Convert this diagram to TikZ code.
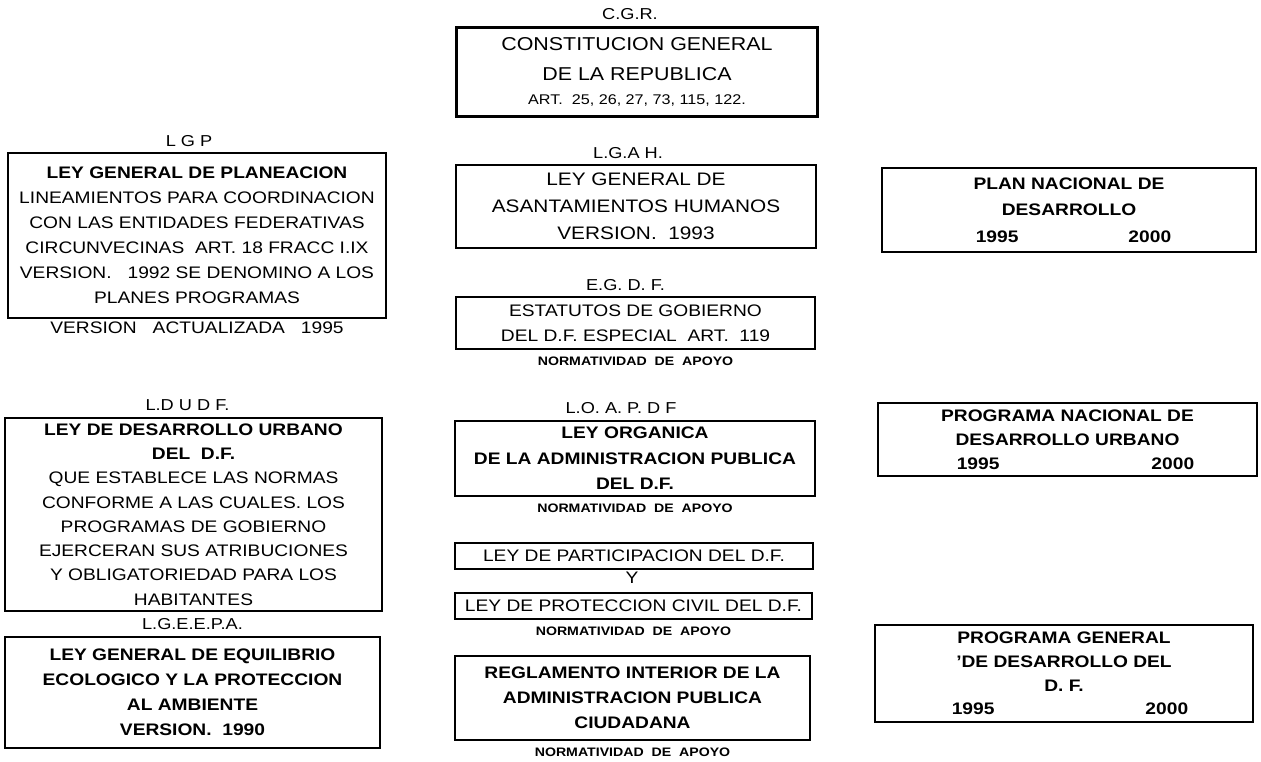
\documentclass[tikz,border=0pt]{standalone}
\usepackage{fontspec}
\setmainfont{Liberation Sans}[FakeStretch=1.15]
\usetikzlibrary{positioning}

\tikzset{
  ley/.style={draw,line width=1.3pt,align=center,inner sep=0pt,
    font=\fontsize{9.5}{14.2}\selectfont},
  sigla/.style={inner sep=1.5pt,font=\fontsize{9}{11}\selectfont},
  apoyo/.style={inner sep=1.5pt,font=\fontsize{7}{8}\selectfont\bfseries},
}

\begin{document}
\begin{tikzpicture}[x=0.02cm,y=-0.02cm]
  \useasboundingbox (0,0) rectangle (1261,761);
  % columna central
  \node[ley,minimum width=7.22cm,minimum height=1.78cm,font=\fontsize{10.6}{17}\selectfont]
    (cgr) at (637,72) {CONSTITUCION GENERAL\\DE LA REPUBLICA\\[-3pt]
    {\fontsize{8}{10}\selectfont ART.\ \ 25,\ 26,\ 27,\ 73,\ 115,\ 122.}};
  \node[sigla,above=2pt of cgr,xshift=-0.14cm] (cgrtag) {C.G.R.};
  \node[ley,minimum width=7.2cm,minimum height=1.66cm,font=\fontsize{10.3}{15.4}\selectfont]
    (lgah) at (636,206.5) {LEY GENERAL DE\\ASANTAMIENTOS HUMANOS\\VERSION.\ \ 1993};
  \node[sigla,above=1pt of lgah,xshift=-0.16cm] (lgahtag) {L.G.A H.};
  \node[ley,minimum width=7.18cm,minimum height=1.04cm] (egdf) at (635.5,323)
    {ESTATUTOS DE GOBIERNO\\DEL D.F. ESPECIAL\ \ ART.\ \ 119};
  \node[sigla,above=1pt of egdf,xshift=-0.2cm] (egdftag) {E.G. D. F.};
  \node[apoyo,below=2pt of egdf] (egdfapoyo) {NORMATIVIDAD\ \ DE\ \ APOYO};
  \node[ley,minimum width=7.2cm,minimum height=1.5cm,font=\fontsize{9.5}{14.5}\selectfont\bfseries]
    (loapdf) at (635,458.5) {LEY ORGANICA\\DE LA ADMINISTRACION PUBLICA\\DEL D.F.};
  \node[sigla,above=2pt of loapdf,xshift=-0.28cm] (loapdftag) {L.O. A. P. D F};
  \node[apoyo,below=2pt of loapdf] (loapdfapoyo) {NORMATIVIDAD\ \ DE\ \ APOYO};
  \node[ley,minimum width=7.16cm,minimum height=0.52cm] (lpdf) at (634,556)
    {LEY DE PARTICIPACION DEL D.F.};
  \node[sigla,font=\fontsize{9.5}{11}\selectfont] (y) at (632,578) {Y};
  \node[ley,minimum width=7.14cm,minimum height=0.52cm] (lpcdf) at (633.5,606)
    {LEY DE PROTECCION CIVIL DEL D.F.};
  \node[apoyo,below=2pt of lpcdf] (lpcdfapoyo) {NORMATIVIDAD\ \ DE\ \ APOYO};
  \node[ley,minimum width=7.1cm,minimum height=1.68cm,font=\fontsize{9.5}{14.2}\selectfont\bfseries]
    (riapc) at (632.5,698) {REGLAMENTO INTERIOR DE LA\\ADMINISTRACION PUBLICA\\CIUDADANA};
  \node[apoyo,below=2pt of riapc] (riapcapoyo) {NORMATIVIDAD\ \ DE\ \ APOYO};
  % columna izquierda
  \node[ley,minimum width=7.56cm,minimum height=3.3cm] (lgp) at (197,235.5)
    {{\bfseries LEY GENERAL DE PLANEACION}\\LINEAMIENTOS PARA COORDINACION\\
    CON LAS ENTIDADES FEDERATIVAS\\CIRCUNVECINAS\ \ ART. 18 FRACC I.IX\\
    VERSION.\ \ \ 1992 SE DENOMINO A LOS\\PLANES PROGRAMAS};
  \node[sigla,above=1pt of lgp,xshift=-0.16cm] (lgptag) {L G P};
  \node[sigla,below=0pt of lgp,font=\fontsize{9.5}{11}\selectfont] (lgpver)
    {VERSION\ \ \ ACTUALIZADA\ \ \ 1995};
  \node[ley,minimum width=7.54cm,minimum height=3.86cm,font=\fontsize{9.5}{13.8}\selectfont]
    (ldudf) at (193.5,514.5) {{\bfseries LEY DE DESARROLLO URBANO}\\{\bfseries DEL\ \ D.F.}\\
    QUE ESTABLECE LAS NORMAS\\CONFORME A LAS CUALES. LOS\\PROGRAMAS DE GOBIERNO\\
    EJERCERAN SUS ATRIBUCIONES\\Y OBLIGATORIEDAD PARA LOS\\HABITANTES};
  \node[sigla,above=2pt of ldudf,xshift=-0.12cm] (ldudftag) {L.D U D F.};
  \node[ley,minimum width=7.5cm,minimum height=2.22cm,font=\fontsize{9.5}{14.2}\selectfont\bfseries]
    (lgeepa) at (192.5,692.5) {LEY GENERAL DE EQUILIBRIO\\ECOLOGICO Y LA PROTECCION\\
    AL AMBIENTE\\VERSION.\ \ 1990};
  \node[sigla,above=2pt of lgeepa] (lgeepatag) {L.G.E.E.P.A.};
  % columna derecha
  \node[ley,minimum width=7.48cm,minimum height=1.68cm,font=\fontsize{9.5}{15}\selectfont\bfseries]
    (pnd) at (1069,210) {PLAN NACIONAL DE\\DESARROLLO\\\hspace*{0.18cm}1995\hspace{2.2cm}2000};
  \node[ley,minimum width=7.58cm,minimum height=1.46cm,font=\fontsize{9.5}{13.6}\selectfont\bfseries]
    (pndu) at (1067.5,439.5) {PROGRAMA NACIONAL DE\\DESARROLLO URBANO\\
    \hspace*{0.32cm}1995\hspace{3.04cm}2000};
  \node[ley,minimum width=7.56cm,minimum height=1.94cm,font=\fontsize{9.5}{13.5}\selectfont\bfseries]
    (pgddf) at (1064,673.5) {PROGRAMA GENERAL\\'DE DESARROLLO DEL\\D. F.\\
    \hspace*{0.24cm}1995\hspace{3.02cm}2000};
\end{tikzpicture}
\end{document}
